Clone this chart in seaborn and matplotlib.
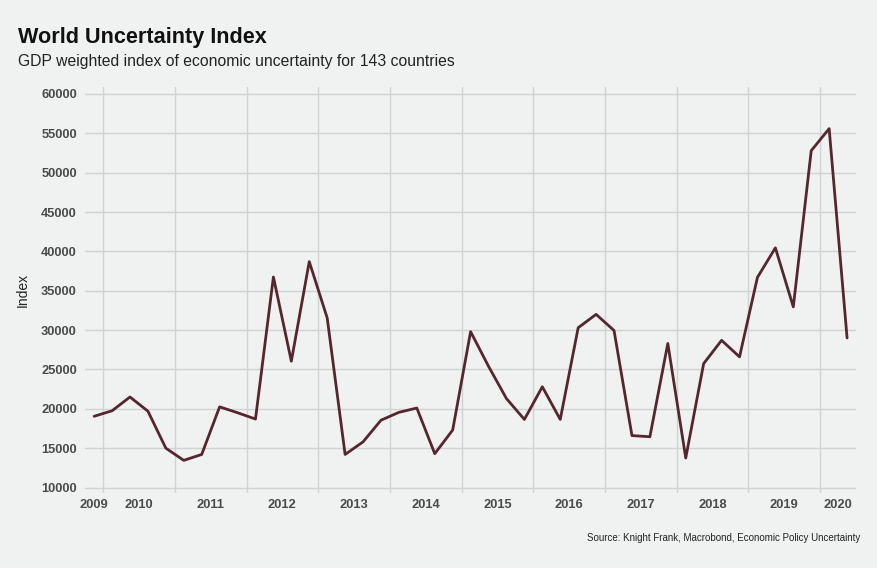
import numpy as np
import pandas as pd
import matplotlib.pyplot as plt
import seaborn as sns

# quarterly values, 2009 Q4 .. 2020 Q2
quarters = pd.period_range("2009Q4", "2020Q2", freq="Q")
index_values = [
    19050, 19750, 21500, 19700,
    15000, 13450, 14200, 20250,
    19500, 18700, 36750, 26050,
    38700, 31550, 14200, 15800,
    18550, 19550, 20100, 14300,
    17300, 29800, 25400, 21300,
    18650, 22800, 18650, 30300,
    32000, 29950, 16600, 16450,
    28300, 13750, 25750, 28700,
    26600, 36700, 40450, 32950,
    52800, 55600, 29000,
]
year_labels = [str(y) for y in range(2009, 2021)]

df = pd.DataFrame({"quarter": quarters, "index": index_values})
# middle of each quarter as decimal year
df["x"] = df["quarter"].dt.year + (df["quarter"].dt.quarter - 1) / 4 + 0.125

bg = "#f0f2f1"
sns.set_theme(style="whitegrid", rc={
    "axes.facecolor": bg, "figure.facecolor": bg,
    "grid.color": "#cfd3d3", "grid.linewidth": 1.0,
})
plt.rcParams["font.family"] = ["Liberation Sans", "DejaVu Sans"]

fig = plt.figure(figsize=(8.78, 5.68), dpi=100)
ax = fig.add_axes([0.097, 0.132, 0.878, 0.715])

sns.lineplot(data=df, x="x", y="index", color="#55262f", linewidth=2.0, ax=ax)

xmin, xmax = 2009.75, 2020.5
ax.set_xlim(xmin, xmax)
ax.set_ylim(9300, 60900)

# gridlines at year boundaries, labels centred in visible part of each year
ax.set_xticks(range(2010, 2021))
ax.set_xticklabels([])
label_pos = [(max(int(y), xmin) + min(int(y) + 1, xmax)) / 2 for y in year_labels]
ax.set_xticks(label_pos, minor=True)
ax.set_xticklabels(year_labels, minor=True, fontweight="bold")
ax.tick_params(axis="x", which="both", length=0, pad=4, labelsize=9.3, labelcolor="#4a4a4a")
ax.xaxis.grid(True, which="major")
ax.xaxis.grid(False, which="minor")

ax.set_yticks(range(10000, 60001, 5000))
ax.set_yticklabels([str(v) for v in range(10000, 60001, 5000)], fontweight="bold")
ax.tick_params(axis="y", length=0, pad=6, labelsize=9.3, labelcolor="#4a4a4a")

for s in ax.spines.values():
    s.set_visible(False)

ax.set_xlabel("")
ax.set_ylabel("Index", fontsize=10, color="#222222", labelpad=8)

fig.text(0.021, 0.925, "World Uncertainty Index", fontsize=15.6, fontweight="bold", color="#111111")
fig.text(0.021, 0.883, "GDP weighted index of economic uncertainty for 143 countries", fontsize=11.3, color="#222222")
fig.text(0.98, 0.048, "Source: Knight Frank, Macrobond, Economic Policy Uncertainty",
         fontsize=7, color="#222222", ha="right")

fig.savefig("out.png", dpi=100, facecolor=bg)
